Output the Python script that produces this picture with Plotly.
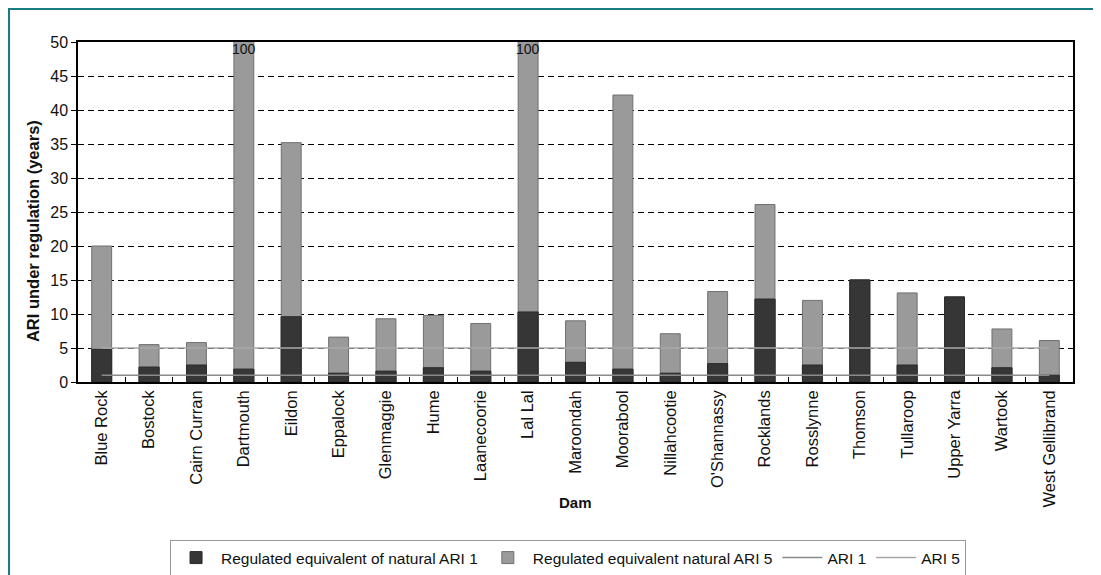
import plotly.graph_objects as go

dams = ["Blue Rock", "Bostock", "Cairn Curran", "Dartmouth", "Eildon", "Eppalock",
        "Glenmaggie", "Hume", "Laanecoorie", "Lal Lal", "Maroondah", "Moorabool",
        "Nillahcootie", "O'Shannassy", "Rocklands", "Rosslynne", "Thomson",
        "Tullaroop", "Upper Yarra", "Wartook", "West Gellibrand"]
ari1_reg = [4.8, 2.2, 2.5, 1.9, 9.6, 1.3, 1.6, 2.1, 1.6, 10.3, 2.9, 1.9, 1.3, 2.7,
            12.2, 2.5, 15.0, 2.5, 12.5, 2.1, 1.0]
ari5_reg = [20.0, 5.5, 5.8, 100, 35.2, 6.6, 9.3, 9.8, 8.6, 100, 9.0, 42.2, 7.1, 13.3,
            26.1, 12.0, 15.0, 13.1, 12.5, 7.8, 6.1]
ari1_line = [1] * len(dams)
ari5_line = [5] * len(dams)
yticks = [0, 5, 10, 15, 20, 25, 30, 35, 40, 45, 50]

font = "Liberation Sans, Arial, sans-serif"
dark = dict(color="#363636", line=dict(color="#2a2a2a", width=1))
gray = dict(color="#9a9a9a", line=dict(color="#707070", width=1))

fig = go.Figure()
fig.add_trace(go.Bar(x=dams, y=ari1_reg, name="Regulated equivalent of natural ARI 1",
                     marker=dark, width=0.42, legendrank=1))
fig.add_trace(go.Bar(x=dams, y=ari5_reg, name="Regulated equivalent natural ARI 5",
                     marker=gray, width=0.42, legendrank=2))
fig.add_trace(go.Bar(x=dams, y=ari1_reg, showlegend=False, marker=dark, width=0.42))
fig.add_trace(go.Scatter(x=dams, y=ari1_line, mode="lines", name="ARI 1",
                         line=dict(color="#8a8a8a", width=1.5), legendrank=3))
fig.add_trace(go.Scatter(x=dams, y=ari5_line, mode="lines", name="ARI 5",
                         line=dict(color="#a8a8a8", width=1.5), legendrank=4))

# labels for clipped bars
for d, v in zip(dams, ari5_reg):
    if v > 50:
        fig.add_annotation(x=d, y=50, text=str(v), showarrow=False, yanchor="top",
                           yshift=3, font=dict(family=font, size=14, color="#111"))

fig.add_annotation(xref="paper", yref="paper", x=0.5, y=-0.353, yanchor="middle",
                   text="<b>Dam</b>", showarrow=False,
                   font=dict(family=font, size=15, color="#111"))
fig.add_annotation(xref="paper", yref="paper", x=-0.0452, y=0.444,
                   xanchor="center", yanchor="middle", textangle=-90,
                   text="<b>ARI under regulation (years)</b>", showarrow=False,
                   font=dict(family=font, size=16.5, color="#111"))

fig.update_layout(
    width=1093, height=567,
    margin=dict(l=70, r=28, t=34, b=193),
    paper_bgcolor="white", plot_bgcolor="white",
    barmode="overlay",
    font=dict(family=font, size=14, color="#111"),
    legend=dict(orientation="h", x=0.4925, xanchor="center",
                yref="container", y=0.0617, yanchor="top",
                bordercolor="#999", borderwidth=1, font=dict(size=15.5),
                traceorder="normal", itemwidth=40, tracegroupgap=0),
    shapes=[dict(type="rect", xref="paper", yref="paper",
                 x0=-0.0698, x1=1.0241, y0=-0.66, y1=1.0985,
                 line=dict(color="#1b7b82", width=3), fillcolor="rgba(0,0,0,0)",
                 layer="below")],
)
fig.update_xaxes(tickangle=-90, showline=True, linecolor="black", linewidth=1.5,
                 mirror=True, ticks="inside", tickson="boundaries", ticklen=5,
                 tickcolor="black", tickfont=dict(size=16.5), showgrid=False,
                 automargin=False)
fig.update_yaxes(range=[0, 50], tickvals=yticks, showline=True, linecolor="black",
                 linewidth=1.5, mirror=True, ticks="outside", ticklen=5,
                 tickcolor="black", tickfont=dict(size=16),
                 showgrid=True, gridcolor="black", gridwidth=1.3, griddash="6px,4px",
                 zeroline=False, automargin=False)

fig.write_html("out.html")
